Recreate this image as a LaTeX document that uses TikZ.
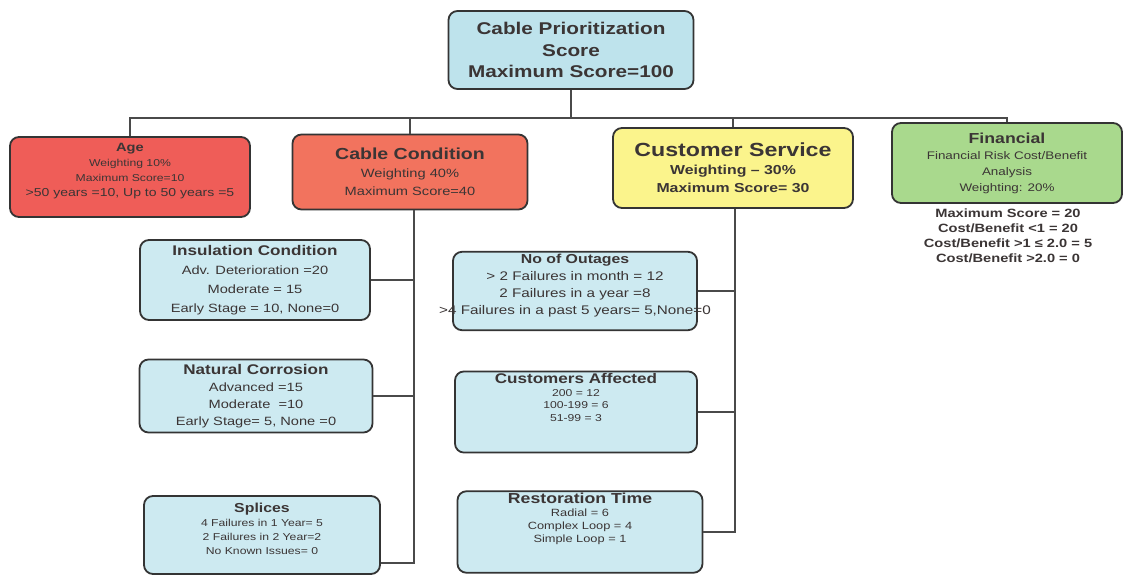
\documentclass[tikz,border=0pt]{standalone}
\usepackage{fontspec}
\setmainfont{Liberation Sans}[FakeStretch=1.22]
\newcommand\fsz[2]{\fontsize{#1}{#2}\selectfont}
\definecolor{edge}{HTML}{343434}
\definecolor{wire}{HTML}{4A4A4A}
\definecolor{ink}{HTML}{3B3535}
\definecolor{topfill}{HTML}{BEE3EC}
\definecolor{subfill}{HTML}{CDEAF1}
\definecolor{agefill}{HTML}{EF5D58}
\definecolor{condfill}{HTML}{F2735E}
\definecolor{custfill}{HTML}{FBF48C}
\definecolor{finfill}{HTML}{A9D98D}
\begin{document}
\begin{tikzpicture}[x=1pt,y=-1pt,
  box/.style={draw=edge, line width=1.8pt, rounded corners=9pt, align=center, text=ink, inner sep=2pt},
  subbox/.style={box, fill=subfill},
  conn/.style={draw=wire, line width=2.2pt}]
\useasboundingbox[fill=white] (0,0) rectangle (1127,575);

% root
\node[box, fill=topfill, minimum width=245pt, minimum height=78pt, font=\bfseries\fsz{17}{21.5}] (top) at (571,50)
  {Cable Prioritization\\Score\\Maximum Score=100};

% first level
\node[box, fill=agefill, minimum width=240pt, minimum height=80pt, font=\fsz{10}{15}] (age) at (130,177)
  {{\bfseries\fsz{12}{15}Age}\\Weighting 10\%\\Maximum Score=10\\{\fsz{11.5}{15}>50 years =10, Up to 50 years =5}\\[0pt]\mbox{}};
\node[box, fill=condfill, minimum width=235pt, minimum height=75pt, font=\fsz{12}{18}] (cond) at (410,172)
  {{\bfseries\fsz{16}{18}Cable Condition}\\Weighting 40\%\\Maximum Score=40};
\node[box, fill=custfill, minimum width=240pt, minimum height=80pt, font=\bfseries\fsz{13}{18}] (cust) at (733,168)
  {{\fsz{19}{20}Customer Service}\\Weighting -- 30\%\\Maximum Score= 30};
\node[box, fill=finfill, minimum width=230pt, minimum height=80pt, font=\fsz{11}{16}] (fin) at (1007,163)
  {{\bfseries\fsz{14.5}{16}Financial}\\Financial Risk Cost/Benefit\\Analysis\\Weighting: 20\%};
\node[align=center, text=ink, font=\bfseries\fsz{12}{15}] (finnote) at (1008,236)
  {Maximum Score = 20\\Cost/Benefit <1 = 20\\Cost/Benefit >1 ≤ 2.0 = 5\\Cost/Benefit >2.0 = 0};

% cable condition factors
\node[subbox, minimum width=230pt, minimum height=80pt, font=\fsz{12}{19}] (ins) at (255,280)
  {{\bfseries\fsz{14}{19}Insulation Condition}\\Adv. Deterioration =20\\Moderate = 15\\Early Stage = 10, None=0};
\node[subbox, minimum width=233pt, minimum height=73pt, font=\fsz{12}{17}] (nat) at (256,396)
  {{\bfseries\fsz{14}{17}Natural Corrosion}\\Advanced =15\\Moderate \ =10\\Early Stage= 5, None =0};
\node[subbox, minimum width=236pt, minimum height=78pt, font=\fsz{10}{14}] (spl) at (262,535)
  {{\bfseries\fsz{13}{14}Splices}\\4 Failures in 1 Year= 5\\2 Failures in 2 Year=2\\No Known Issues= 0\\[-2pt]\mbox{}};

% customer service factors
\node[subbox, minimum width=244pt, minimum height=78pt, font=\fsz{12.5}{17}] (out) at (575,291)
  {{\bfseries\fsz{13}{17}No of Outages}\\> 2 Failures in month = 12\\2 Failures in a year =8\\\makebox[0pt][c]{>4 Failures in a past 5 years= 5,None=0}\\[-3pt]\mbox{}};
\node[subbox, minimum width=242pt, minimum height=80pt, font=\fsz{10}{12.5}] (aff) at (576,412)
  {{\bfseries\fsz{14}{15}Customers Affected}\\200 = 12\\100-199 = 6\\51-99 = 3\\[17pt]\mbox{}};
\node[subbox, minimum width=245pt, minimum height=80pt, font=\fsz{10.5}{13}] (res) at (580,532)
  {{\bfseries\fsz{14.5}{15}Restoration Time}\\Radial = 6\\Complex Loop = 4\\Simple Loop = 1\\[15pt]\mbox{}};

% root to first level
\coordinate (bus) at (573,118);
\draw[conn] (top.south) -- (top.south |- bus);
\draw[conn] (age) |- (bus) -| (fin);
\draw[conn] (cond.north) -- (cond.north |- bus);
\draw[conn] (cust.north) -- (cust.north |- bus);

% cable condition trunk
\coordinate (ctrunk) at (414,563);
\draw[conn] (cond.south -| ctrunk) -- (ctrunk) -- (spl.east |- ctrunk);
\draw[conn] (ins.east) -- (ins.east -| ctrunk);
\draw[conn] (nat.east) -- (nat.east -| ctrunk);

% customer service trunk
\coordinate (strunk) at (735,532);
\draw[conn] (cust.south -| strunk) -- (strunk) -- (res.east);
\draw[conn] (out.east) -- (out.east -| strunk);
\draw[conn] (aff.east) -- (aff.east -| strunk);
\end{tikzpicture}
\end{document}
